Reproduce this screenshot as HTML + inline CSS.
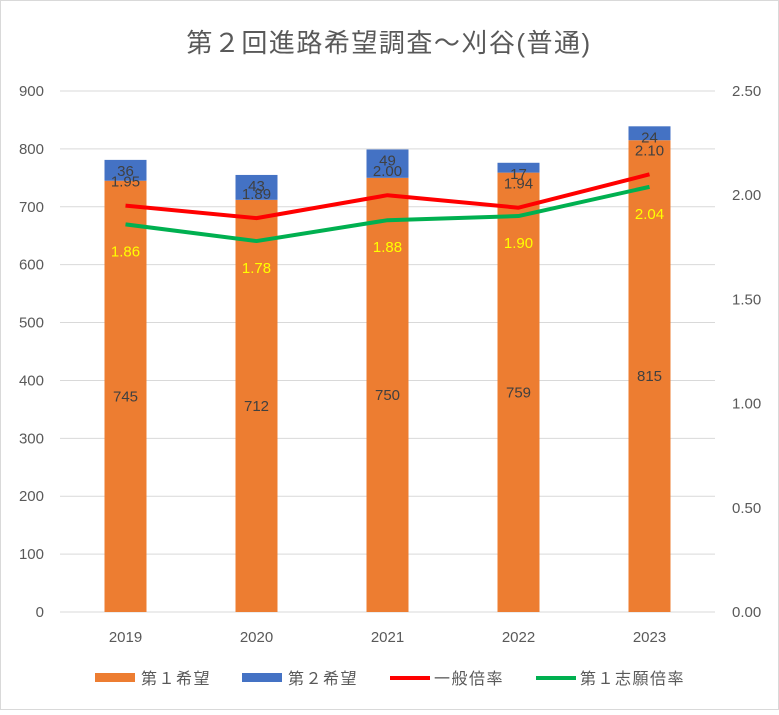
<!DOCTYPE html>
<html><head><meta charset="utf-8"><style>
body{margin:0;background:#fff;}
svg text{font-family:"Liberation Sans","Noto Sans CJK JP",sans-serif;}
</style></head><body>
<svg id="c" width="779" height="710" xmlns="http://www.w3.org/2000/svg">
<rect x="0.5" y="0.5" width="778" height="709" fill="#fff" stroke="#d9d9d9"/>
<text x="389" y="52" text-anchor="middle" font-size="26" letter-spacing="1.5" fill="#595959">第２回進路希望調査～刈谷(普通)</text>
<g id="grid"></g><g id="bars"></g><g id="lines"></g><g id="labels"></g>
<g id="legend">
<rect x="95" y="673" width="40" height="9" fill="#ed7d31"/>
<text x="141" y="684" font-size="16" letter-spacing="1.5" fill="#595959">第１希望</text>
<rect x="242" y="673" width="40" height="9" fill="#4472c4"/>
<text x="288" y="684" font-size="16" letter-spacing="1.5" fill="#595959">第２希望</text>
<line x1="390" y1="678" x2="430" y2="678" stroke="#ff0000" stroke-width="4"/>
<text x="434" y="684" font-size="16" letter-spacing="1.5" fill="#595959">一般倍率</text>
<line x1="536" y1="678" x2="576" y2="678" stroke="#00b050" stroke-width="4"/>
<text x="580" y="684" font-size="16" letter-spacing="1.5" fill="#595959">第１志願倍率</text>
</g>
</svg>
<script>
const categories=["2019","2020","2021","2022","2023"];
const firstHope=[745,712,750,759,815];
const secondHope=[36,43,49,17,24];
const generalRatio=[1.95,1.89,2.00,1.94,2.10];
const firstRatio=[1.86,1.78,1.88,1.90,2.04];
const leftTicks=[0,100,200,300,400,500,600,700,800,900];
const rightTicks=["0.00","0.50","1.00","1.50","2.00","2.50"];
const NS="http://www.w3.org/2000/svg";
const X0=60,X1=715,Y0=612,Y1=91;
const yL=v=>Y0-(v/900)*(Y0-Y1);
const yR=v=>Y0-(v/2.5)*(Y0-Y1);
const band=(X1-X0)/categories.length;
const xC=i=>X0+band*(i+0.5);
function mk(tag,attrs,parent,txt){const e=document.createElementNS(NS,tag);for(const k in attrs)e.setAttribute(k,attrs[k]);if(txt!==undefined)e.textContent=txt;document.getElementById(parent).appendChild(e);return e;}
leftTicks.forEach(t=>{
 const l=mk('line',{x1:X0,x2:X1,y1:yL(t),y2:yL(t),stroke:'#d9d9d9','stroke-width':1},'grid');
 
 
 const tx=mk('text',{x:44,y:yL(t)+5,'text-anchor':'end','font-size':15,fill:'#595959'},'grid',t);
 
 
});
rightTicks.forEach(t=>{
 const tx=mk('text',{x:732,y:yR(+t)+5,'font-size':15,fill:'#595959'},'grid',t);
 
 
});
const bw=42;
categories.forEach((c,i)=>{
 const x=xC(i);
 const b1=mk('rect',{x:x-bw/2,y:yL(firstHope[i]),width:bw,height:Y0-yL(firstHope[i]),fill:'#ed7d31'},'bars');
 
 
 const top=firstHope[i]+secondHope[i];
 const b2=mk('rect',{x:x-bw/2,y:yL(top),width:bw,height:yL(firstHope[i])-yL(top),fill:'#4472c4'},'bars');
 
 
 const xl=mk('text',{x:x,y:642,'text-anchor':'middle','font-size':15,fill:'#595959'},'labels',c);
 
 
 const l1=mk('text',{x:x,y:yL(firstHope[i]/2)+5,'text-anchor':'middle','font-size':15,fill:'#404040'},'labels',firstHope[i]);
 
 
 const l2=mk('text',{x:x,y:yL(top)+16,'text-anchor':'middle','font-size':15,fill:'#404040'},'labels',secondHope[i]);
 
 
 const l3=mk('text',{x:x,y:yR(generalRatio[i])-19,'text-anchor':'middle','font-size':15,fill:'#404040'},'labels',generalRatio[i].toFixed(2));
 
 
 const l4=mk('text',{x:x,y:yR(firstRatio[i])+32,'text-anchor':'middle','font-size':15,fill:'#ffff00'},'labels',firstRatio[i].toFixed(2));
 
 
});
const pr=mk('polyline',{points:generalRatio.map((v,i)=>xC(i)+','+yR(v)).join(' '),fill:'none',stroke:'#ff0000','stroke-width':4,'stroke-linejoin':'round'},'lines');


const pg=mk('polyline',{points:firstRatio.map((v,i)=>xC(i)+','+yR(v)).join(' '),fill:'none',stroke:'#00b050','stroke-width':4,'stroke-linejoin':'round'},'lines');


</script>
</body></html>
